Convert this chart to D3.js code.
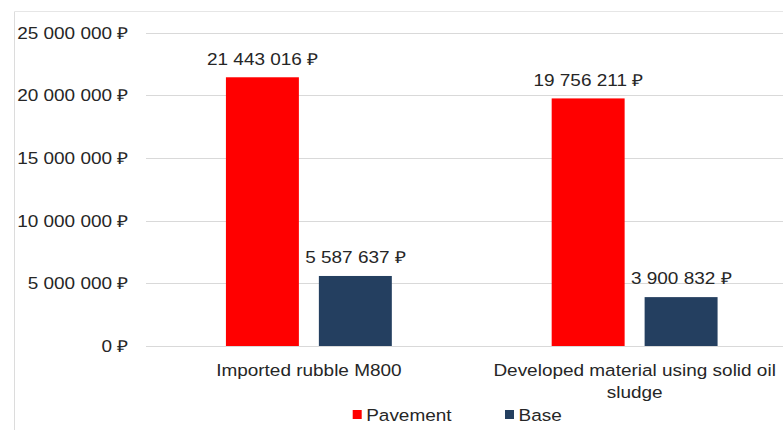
<!DOCTYPE html>
<html><head><meta charset="utf-8">
<script src="https://cdn.jsdelivr.net/npm/d3@7"></script>
<style>
html,body{margin:0;padding:0;background:#fff;}
svg{display:block;}
text{font-family:"Liberation Sans",Arial,sans-serif;fill:#262626;}
</style></head>
<body>
<svg id="chart" width="783" height="430"></svg>
<script>
const categories = [["Imported rubble M800"], ["Developed material using solid oil", "sludge"]];
const categoryKeys = ["Imported rubble M800", "Developed material using solid oil sludge"];
const seriesNames = ["Pavement", "Base"];
const pavementValues = [21443016, 19756211];
const baseValues = [5587637, 3900832];
const yTicks = [0, 5000000, 10000000, 15000000, 20000000, 25000000];
const colors = ["#ff0000", "#243f60"];

const seriesValues = [pavementValues, baseValues];
const FS = 16.5, SX = 1.15;
const fmt = v => d3.format(",")(v).replace(/,/g, " ") + " \u20BD";

const svg = d3.select("#chart");
// outer frame (cropped)
svg.append("line").attr("x1",14.5).attr("x2",14.5).attr("y1",11.5).attr("y2",430).attr("stroke","#dcdcdc");
svg.append("line").attr("x1",14.5).attr("x2",783).attr("y1",11.5).attr("y2",11.5).attr("stroke","#e6e6e6");

const y = d3.scaleLinear().domain([0, 25000000]).range([346, 32.7]);
const x0 = d3.scaleBand().domain(categoryKeys).range([146, 797.5]).paddingInner(0).paddingOuter(0);
const x1 = d3.scaleBand().domain(seriesNames).range([0, x0.bandwidth()]).paddingInner(0.215).paddingOuter(0.86);

function stext(g, x, yy, str, anchor){
  return g.append("text").attr("transform",`translate(${x},${yy}) scale(${SX},1)`)
    .attr("text-anchor",anchor).style("font-size",FS+"px").text(str);
}

// grid
const grid = svg.append("g");
yTicks.forEach(t=>{
  grid.append("line").attr("x1",146).attr("x2",783).attr("y1",Math.round(y(t))+0.5).attr("y2",Math.round(y(t))+0.5)
    .attr("stroke","#d9d9d9").attr("stroke-width",1);
});
// y labels
const yl = svg.append("g");
yTicks.forEach(t=>{ stext(yl, 128, y(t)+6, fmt(t), "end"); });

// bars
const bars = svg.append("g");
categoryKeys.forEach((c,ci)=>{
  seriesNames.forEach((s,si)=>{
    const v = seriesValues[si][ci];
    const bx = x0(c) + x1(s);
    bars.append("rect").attr("x",bx).attr("y",y(v)).attr("width",x1.bandwidth()).attr("height",y(0)-y(v))
      .attr("fill",colors[si]);
    stext(bars, bx + x1.bandwidth()/2, y(v)-12.7, fmt(v), "middle");
  });
});

// category labels
const cl = svg.append("g");
categoryKeys.forEach((c,ci)=>{
  categories[ci].forEach((line,li)=>{
    stext(cl, x0(c)+x0.bandwidth()/2, 375.5 + li*22.5, line, "middle");
  });
});

// legend
const lg = svg.append("g");
const legX = [352.7, 505];
seriesNames.forEach((s,si)=>{
  lg.append("rect").attr("x",legX[si]).attr("y",410).attr("width",9).attr("height",9).attr("fill",colors[si]);
  stext(lg, legX[si]+13.5, 420.5, s, "start");
});
</script>
</body></html>
